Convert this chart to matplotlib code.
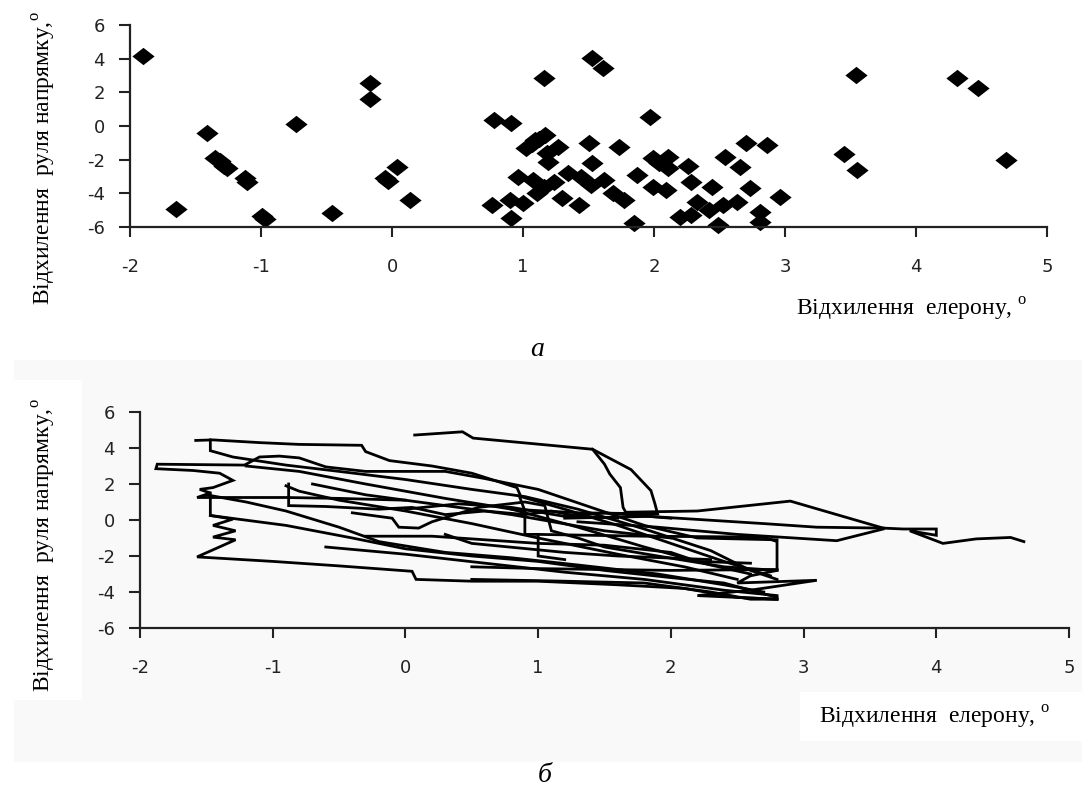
import matplotlib
matplotlib.use("Agg")
import matplotlib.pyplot as plt
from matplotlib.patches import Rectangle

plt.rcParams['mathtext.fontset'] = 'custom'
plt.rcParams['mathtext.rm'] = 'Liberation Serif'

W, H = 1082, 793

# ---------------- data ----------------
x_ticks = [-2, -1, 0, 1, 2, 3, 4, 5]
y_ticks = [-6, -4, -2, 0, 2, 4, 6]

x_label = "Відхилення  елерону, $^{\\rm o}$"
y_label = "Відхилення  руля напрямку,$^{\\rm o}$"
panel_a = "а"
panel_b = "б"

# panel a: scatter (aileron deflection, rudder deflection)
scatter_x = [-1.90, -1.65, -1.41, -1.35, -1.31, -1.28, -1.26, -1.12, -1.11, -0.99,
             -0.97, -0.73, -0.46, -0.17, -0.17, -0.05, -0.03, 0.04, 0.14,
             1.53, 1.61, 1.16, 0.78, 0.91, 1.97, 1.02, 1.07, 1.12, 1.17, 1.50,
             1.73, 1.27, 1.19, 1.53, 0.96, 1.08, 1.24, 1.44, 1.62, 1.69,
             1.77, 1.11, 1.30, 1.43, 0.76, 0.90, 1.00, 0.91, 1.85, 1.87,
             1.99, 1.18, 1.34, 1.16, 1.52, 1.99, 2.04, 1.09,
             2.11, 2.11, 2.26, 2.54, 2.66, 2.70, 2.86, 2.09, 2.28, 2.44,
             2.73, 2.96, 2.33, 2.42, 2.53, 2.63, 2.20, 2.28, 2.49, 2.81, 2.81,
             3.54, 4.31, 4.47, 3.45, 3.55, 4.69]
scatter_y = [4.16, -4.95, -0.44, -1.90, -2.10, -2.35, -2.50, -3.07, -3.35, -5.35,
             -5.50, 0.10, -5.15, 2.55, 1.62, -3.07, -3.25, -2.45, -4.40,
             4.02, 3.43, 2.83, 0.36, 0.16, 0.55, -1.30, -1.05, -0.75, -0.55, -1.03,
             -1.23, -1.23, -2.12, -2.22, -3.01, -3.21, -3.31, -3.01, -3.21, -4.00,
             -4.40, -4.00, -4.30, -4.70, -4.70, -4.40, -4.56, -5.49, -5.75, -2.91,
             -1.92, -1.62, -2.81, -3.61, -3.51, -3.61, -2.22, -0.83,
             -1.83, -2.52, -2.38, -1.83, -2.42, -1.03, -1.13, -3.80, -3.31, -3.61,
             -3.70, -4.24, -4.50, -4.99, -4.70, -4.50, -5.39, -5.29, -5.88, -5.09, -5.69,
             3.03, 2.83, 2.24, -1.66, -2.61, -2.02]

# panel b: recorded trajectory pieces (x = aileron, y = rudder)
trace_x = [
    [-1.58, -1.45, -1.10, -0.80, -0.33, -0.30, -0.12, 0.20, 0.50, 0.84, 0.87, 1.20, 1.60, 2.00, 2.40, 2.75],
    [-1.47, -1.47, -1.30, -0.90, -0.50, 0.00, 0.50, 0.90, 1.30, 1.80, 2.30, 2.60, 2.80],
    [-1.20, -1.87, -1.88, -1.60, -1.40, -1.30, -1.45, -1.55, -1.47, -1.57, -0.90, -0.50, 0.00],
    [-1.20, -1.10, -0.95, -0.80, -0.60, -0.30, 0.30, 0.60, 1.00, 1.40, 1.80, 2.20, 2.80],
    [-1.47, -1.47, -1.30, -1.45, -1.28, -1.45, -1.28, -1.57, -1.00, -0.50, 0.05, 0.08, 0.50, 1.00, 1.60, 2.10, 2.50, 2.80],
    [-1.47, -0.90, -0.40, 0.00, 0.50, 1.00, 1.50, 2.00, 2.40, 2.80],
    [-1.50, -1.20, -0.90, -0.50, -0.20, 0.30, 0.80, 1.30, 1.90, 2.40, 2.70],
    [-0.88, -0.88, -0.60, -0.20, 0.05, 0.30, 0.60, 0.90, 1.10, 1.30, 1.60],
    [-0.40, -0.10, -0.05, 0.10, 0.20, 0.55, 0.90, 1.05, 1.10, 1.30, 1.50, 1.90, 2.40, 2.80],
    [-0.30, 0.20, 0.60, 1.00, 1.50, 2.00, 2.20, 2.60],
    [0.50, 1.00, 1.50, 2.00, 2.80],
    [1.00, 1.80, 2.70, 2.80, 2.80, 2.60, 2.50, 3.10, 2.60, 2.20, 2.80],
    [0.07, 0.43, 0.51, 1.02, 1.41, 1.50, 1.54, 1.62, 1.64, 1.66, 2.20, 2.90, 3.60, 3.75, 4.00, 4.00, 3.80, 4.05, 4.30, 4.56, 4.66],
    [1.41, 1.70, 1.85, 1.88, 1.90, 1.30, 0.80],
    [1.20, 1.84, 2.70, 3.10, 3.60],
    [1.30, 1.90, 2.50, 3.25, 3.60],
    [0.86, 0.90, 0.90, 1.00, 1.00, 1.20],
    [-0.70, -0.30, 0.20, 0.80, 1.50, 2.00],
    [0.30, 0.50, 1.20, 1.60, 2.30],
    [0.50, 1.20, 1.80, 2.30, 2.60, 2.80],
    [-1.20, -0.80, -0.30, 0.30, 0.80, 1.30, 1.80, 2.30, 2.60],
    [-0.90, -0.80, -0.50, 0.00, 0.50, 1.00, 1.60, 2.10, 2.50],
    [0.00, 0.40, 0.80, 1.20, 1.50, 2.00],
    [-0.60, 0.00, 0.60, 1.20, 1.80, 2.40, 2.80],
]
trace_y = [
    [4.42, 4.45, 4.30, 4.20, 4.15, 3.80, 3.30, 3.00, 2.60, 1.80, 1.30, 0.60, -0.30, -1.30, -2.30, -3.10],
    [4.45, 3.85, 3.50, 3.05, 2.70, 2.25, 1.70, 1.30, 0.60, -0.50, -1.70, -2.80, -3.30],
    [3.05, 3.10, 2.85, 2.75, 2.60, 2.20, 1.80, 1.70, 1.50, 1.25, 1.25, 1.20, 1.10],
    [3.10, 3.50, 3.55, 3.45, 2.95, 2.70, 2.70, 2.30, 1.70, 0.70, -0.30, -1.00, -1.10],
    [1.50, 0.25, 0.05, -0.30, -0.60, -0.95, -1.10, -2.05, -2.30, -2.55, -2.85, -3.30, -3.40, -3.40, -3.60, -3.80, -4.30, -4.40],
    [0.25, -0.30, -1.00, -1.60, -2.00, -2.30, -2.80, -3.20, -3.50, -4.30],
    [1.40, 1.00, 0.50, -0.40, -1.20, -1.80, -2.10, -2.50, -3.00, -3.60, -4.00],
    [2.00, 0.80, 0.75, 0.60, 0.70, 0.30, 0.50, 0.30, 0.50, 0.20, 0.10],
    [0.40, 0.10, -0.40, -0.45, -0.10, 0.70, 1.00, 0.80, -0.60, -1.00, -1.50, -2.00, -2.60, -2.80],
    [-0.90, -0.90, -1.10, -1.30, -1.40, -1.80, -2.30, -2.40],
    [-2.60, -2.70, -2.75, -2.80, -2.75],
    [-0.80, -0.90, -0.95, -1.20, -2.80, -3.10, -3.50, -3.35, -3.90, -4.20, -4.40],
    [4.72, 4.90, 4.55, 4.20, 3.93, 3.10, 2.55, 1.80, 0.70, 0.43, 0.50, 1.05, -0.45, -0.50, -0.50, -0.85, -0.60, -1.30, -1.05, -0.97, -1.20],
    [3.93, 2.80, 1.63, 0.90, 0.34, 0.40, 0.60],
    [0.10, 0.20, -0.20, -0.40, -0.45],
    [-0.10, -0.40, -0.80, -1.15, -0.50],
    [1.30, 0.50, -0.80, -0.80, -2.00, -2.20],
    [2.00, 1.40, 0.90, 0.30, -0.60, -1.00],
    [-0.80, -1.30, -1.80, -2.00, -2.20],
    [-3.30, -3.40, -3.50, -4.00, -4.40, -4.40],
    [3.00, 2.70, 2.00, 1.20, 0.60, -0.40, -1.50, -2.50, -3.00],
    [1.90, 1.60, 1.10, 0.50, -0.20, -1.00, -1.90, -2.60, -3.30],
    [0.60, 0.90, 0.70, 0.20, 0.40, 0.10],
    [-1.50, -1.90, -2.40, -2.90, -3.30, -3.90, -4.20],
]

# ---------------- figure ----------------
fig = plt.figure(figsize=(W / 100, H / 100), dpi=100)
fig.patch.set_facecolor('white')


def px_rect(x0, y0, x1, y1, color, z):
    r = Rectangle((x0 / W, 1 - y1 / H), (x1 - x0) / W, (y1 - y0) / H,
                  transform=fig.transFigure, facecolor=color, edgecolor='none', zorder=z)
    fig.add_artist(r)


# light grey background of panel b and white label boxes
px_rect(14, 360, W, 762, '#f9f9f9', -3)
px_rect(14, 380, 82, 700, 'white', -2)
px_rect(800, 692, W, 741, 'white', -2)

tick_font = dict(family='DejaVu Sans', size=13)
lab_font = dict(family='Liberation Serif', size=17)


def style_axes(ax):
    for s in ['top', 'right']:
        ax.spines[s].set_visible(False)
    for s in ['left', 'bottom']:
        ax.spines[s].set_linewidth(1.6)
        ax.spines[s].set_color('#222222')
    ax.set_xlim(-2, 5)
    ax.set_ylim(-6, 6)
    ax.set_xticks(x_ticks)
    ax.set_yticks(y_ticks)
    ax.set_xticklabels([str(v) for v in x_ticks], **tick_font, color='#222222')
    ax.set_yticklabels([str(v) for v in y_ticks], **tick_font, color='#222222')
    ax.tick_params(axis='x', direction='out', length=7, width=1.5, pad=15, colors='#222222')
    ax.tick_params(axis='y', direction='out', length=8, width=1.5, pad=10, colors='#222222')


# ---- panel a ----
axa = fig.add_axes([130 / W, 1 - 227 / H, (1047 - 130) / W, (227 - 25) / H])
axa.set_facecolor('none')
style_axes(axa)
diamond = [(-1, 0), (0, 0.78), (1, 0), (0, -0.78), (-1, 0)]
axa.plot(scatter_x, scatter_y, linestyle='none', marker=diamond, markersize=16,
         color='black', markeredgewidth=0, clip_on=False)

fig.text(44 / W, 1 - 158 / H, y_label, rotation=90, ha='center', va='center', **lab_font)
fig.text(912 / W, 1 - 309 / H, x_label, ha='center', va='center', **lab_font)
fig.text(537 / W, 1 - 350 / H, panel_a, ha='center', va='center',
         family='Liberation Serif', style='italic', size=20)

# ---- panel b ----
axb = fig.add_axes([140 / W, 1 - 628 / H, (1069 - 140) / W, (628 - 412) / H])
axb.set_facecolor('none')
style_axes(axb)
for tx, ty in zip(trace_x, trace_y):
    axb.plot(tx, ty, color='black', linewidth=2.0, solid_joinstyle='miter')

fig.text(44 / W, 1 - 545 / H, y_label, rotation=90, ha='center', va='center', **lab_font)
fig.text(935 / W, 1 - 717 / H, x_label, ha='center', va='center', **lab_font)
fig.text(545 / W, 1 - 776 / H, panel_b, ha='center', va='center',
         family='Liberation Serif', style='italic', size=20)

fig.savefig('out.png', dpi=100)
